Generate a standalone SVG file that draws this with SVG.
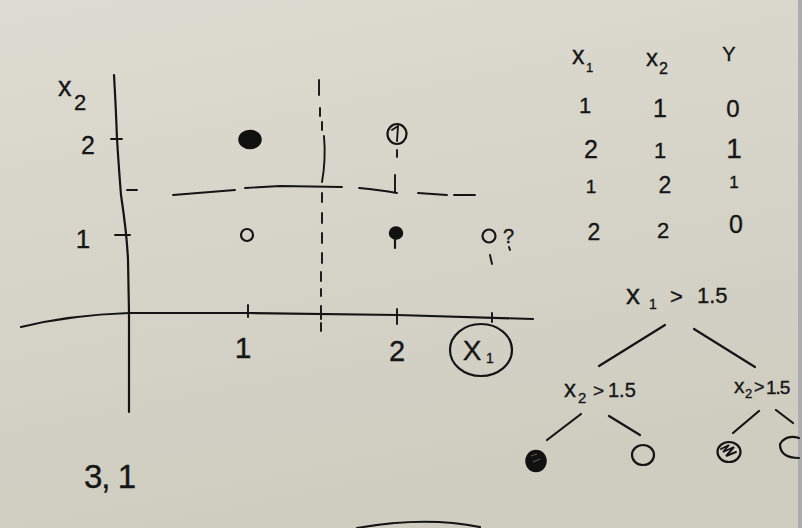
<svg xmlns="http://www.w3.org/2000/svg" width="802" height="528" viewBox="0 0 802 528">
<defs>
<linearGradient id="bg" x1="0" y1="0" x2="0.3" y2="1">
<stop offset="0" stop-color="#dedcd2"/>
<stop offset="1" stop-color="#cfccc0"/>
</linearGradient>
<style>
.ink{fill:none;stroke:#141414;stroke-width:2.2;stroke-linecap:round;stroke-linejoin:round}
.thin{fill:none;stroke:#141414;stroke-width:1.9;stroke-linecap:round}
.dot{fill:#111;stroke:#111;stroke-width:1.5}
.hw{font-family:"Liberation Sans","DejaVu Sans",sans-serif;fill:#161616;stroke:#161616;stroke-width:0.35;font-weight:normal}
.t{text-anchor:middle}
</style>
</defs>
<rect x="0" y="0" width="802" height="528" fill="url(#bg)"/>
<rect x="798" y="0" width="4" height="528" fill="#a9adb2"/>

<g id="axes">
<path class="ink" d="M114,75 Q116,110 117,139 Q119,170 121,195 Q127,235 128,260 L129,313 L129,412"/>
<path class="ink" d="M21,327 Q70,315 129,313 L248,313 L397,315 L533,319"/>
<path class="thin" d="M248,305 V317 M397,309 V324 M492,313 V322 M111,139 H122 M115,235 H130"/>
<text class="hw" x="58" y="96" font-size="27">x</text>
<text class="hw" x="74" y="110" font-size="22">2</text>
<text class="hw t" x="88" y="154" font-size="25">2</text>
<text class="hw t" x="83" y="248" font-size="26">1</text>
<text class="hw t" x="243" y="358" font-size="30">1</text>
<text class="hw t" x="397" y="361" font-size="29">2</text>
<g id="x1-label">
<ellipse class="ink" cx="481" cy="350" rx="31" ry="26"/>
<text class="hw t" x="472" y="360" font-size="28">X</text>
<text class="hw" x="486" y="363" font-size="14">1</text>
</g>
</g>

<g id="boundaries">
<path class="thin" d="M319,80 V95 M320,108 V116 M322,122 V130 M324,136 Q326,160 322,182"/>
<path class="thin" d="M322,193 V202 M322,213 V223 M322,233 V243 M322,253 V263 M321,272 V281 M321,289 V296 M321,306 V319 M321,323 V331"/>
<path class="thin" d="M127,190 H137 M173,195 L235,190 M245,188 L280,186 L342,187 M359,188 Q380,190 397,193 M418,193 L447,195 M454,195 L475,195"/>
<path class="thin" d="M397,150 V157 M395,175 V192"/>
</g>

<g id="points">
<ellipse class="dot" cx="250" cy="139.5" rx="11" ry="9"/>
<g id="p22">
<ellipse class="ink" cx="397" cy="134" rx="9.5" ry="10" stroke-width="2.6"/>
<path class="thin" d="M392,130 L398,126 L397,141"/>
</g>
<ellipse class="ink" cx="247" cy="235" rx="6" ry="6" stroke-width="2"/>
<ellipse class="dot" cx="396" cy="233" rx="6.5" ry="6"/>
<path class="ink" d="M395,237 V248"/>
<ellipse class="ink" cx="489" cy="236" rx="6.5" ry="6.5" stroke-width="2.2"/>
<text class="hw" x="503" y="243" font-size="20">?</text>
<path class="thin" d="M509,247 L510,250"/>
<path class="thin" d="M490,255 L492,264"/>
</g>

<text class="hw" x="84" y="488" font-size="33" letter-spacing="-1">3, 1</text>

<g id="table">
<text class="hw" x="572" y="64" font-size="25">x</text>
<text class="hw" x="586" y="72" font-size="13">1</text>
<text class="hw" x="646" y="66" font-size="24">x</text>
<text class="hw" x="659" y="74" font-size="16">2</text>
<text class="hw t" x="729" y="61" font-size="20">Y</text>
<text class="hw t" x="585" y="113" font-size="22">1</text>
<text class="hw t" x="660" y="117" font-size="25">1</text>
<text class="hw t" x="733" y="117" font-size="24">0</text>
<text class="hw t" x="591" y="158" font-size="25">2</text>
<text class="hw t" x="660" y="158" font-size="22">1</text>
<text class="hw t" x="734" y="158" font-size="28">1</text>
<text class="hw t" x="591" y="193" font-size="19">1</text>
<text class="hw t" x="665" y="193" font-size="23">2</text>
<text class="hw t" x="734" y="188" font-size="17">1</text>
<text class="hw t" x="594" y="240" font-size="23">2</text>
<text class="hw t" x="663" y="238" font-size="22">2</text>
<text class="hw t" x="736" y="233" font-size="25">0</text>
</g>

<g id="tree-root">
<text class="hw" x="626" y="304" font-size="28">x</text>
<text class="hw" x="649" y="309" font-size="14">1</text>
<text class="hw" x="670" y="304" font-size="22">&gt;</text>
<text class="hw" x="697" y="303" font-size="22">1.5</text>
</g>
<g id="tree-left">
<text class="hw" x="564" y="397" font-size="24">x</text>
<text class="hw" x="578" y="403" font-size="15">2</text>
<text class="hw" x="593" y="397" font-size="19">&gt;</text>
<text class="hw" x="608" y="397" font-size="20">1.5</text>
</g>
<g id="tree-right">
<text class="hw" x="734" y="393" font-size="21">x</text>
<text class="hw" x="745" y="398" font-size="13">2</text>
<text class="hw" x="754" y="393" font-size="18">&gt;</text>
<text class="hw" x="766" y="394" font-size="19" letter-spacing="-1">1.5</text>
</g>
<g id="leaf-ll">
<ellipse class="dot" cx="536" cy="461" rx="10" ry="10.5"/>
<path d="M531,456 L537,454 M533,462 L540,459" stroke="#555" stroke-width="1.2" fill="none"/>
</g>
<g id="leaf-lr">
<ellipse class="ink" cx="643" cy="455" rx="11" ry="10"/>
</g>
<g id="leaf-rl">
<ellipse class="ink" cx="729" cy="452" rx="11.5" ry="10" stroke-width="2.4"/>
<path class="thin" d="M721,449 L729,445 L723,452 L734,447 L726,456 L736,452" stroke-width="1.7"/>
</g>
<g id="leaf-rr">
<path class="ink" d="M799,438 Q786,434 780,444 Q780,458 799,458"/>
</g>
<g id="connectors">
<path class="ink" d="M665,325 L599,366 M694,329 L755,367"/>
<path class="ink" d="M581,414 L547,440 M609,416 L640,435"/>
<path class="ink" d="M759,411 L733,433 M776,410 L793,423"/>
</g>

<path class="ink" d="M357,528 Q425,516 480,527" stroke-width="2.6"/>
</svg>
